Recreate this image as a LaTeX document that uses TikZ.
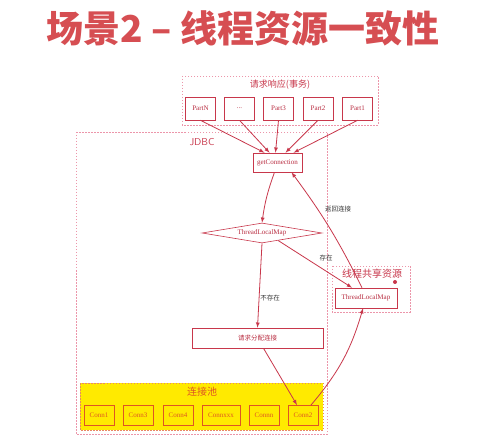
\documentclass[tikz,border=0pt]{standalone}
\usepackage{fontspec}
\setmainfont{Liberation Serif}
\newfontfamily\cjk{Noto Sans CJK SC}
\usetikzlibrary{shapes.geometric}
\usetikzlibrary{arrows}

\definecolor{titlered}{RGB}{214,78,82}
\definecolor{linered}{RGB}{200,55,75}
\definecolor{textred}{RGB}{185,45,65}
\definecolor{dashpink}{RGB}{236,150,170}
\definecolor{poolyellow}{RGB}{255,234,0}
\definecolor{connorange}{RGB}{222,85,35}

\begin{document}
\begin{tikzpicture}[x=1pt,y=-1pt,
    part/.style={draw=linered,fill=white,line width=0.6pt,inner sep=0pt,minimum width=30pt,minimum height=23pt,text=textred,font=\fontsize{7}{8}\selectfont},
    conn/.style={draw=connorange,fill=poolyellow,line width=0.9pt,inner sep=0pt,minimum height=20pt,text=connorange,font=\fontsize{7}{8}\selectfont},
    group/.style={draw=dashpink,line width=0.6pt,dash pattern=on 1.5pt off 1.5pt},
    arr/.style={draw=linered,line width=0.8pt,-latex},
    lbl/.style={font=\cjk\fontsize{6.5}{7}\selectfont,text=black!80}
  ]
  \useasboundingbox[fill=white] (0,0) rectangle (500,443);

  % title
  \node (title) at (243,28) [text=titlered,font=\cjk\bfseries\fontsize{37}{40}\selectfont] {场景2 – 线程资源一致性};

  % request / transaction
  \draw[group] (182,76) rectangle (378,125);
  \node (req) at (280,85) [text=linered,font=\cjk\fontsize{9}{10}\selectfont] {请求响应(事务)};
  \node (pn) at (200.5,108.5) [part] {PartN};
  \node (pd) at (239.5,108.5) [part] {...};
  \node (p3) at (278.5,108.5) [part] {Part3};
  \node (p2) at (318,108.5) [part] {Part2};
  \node (p1) at (357.5,108.5) [part] {Part1};

  % jdbc
  \draw[group] (76,132) rectangle (327,434);
  \node (jdbc) at (202,142) [text=linered,font=\sffamily\fontsize{10}{11}\selectfont] {JDBC};

  \node (gc) at (277.5,162.5) [part,minimum width=49pt,minimum height=19pt] {getConnection};
  \node (tlm) at (262,233) [diamond,draw=linered,fill=white,line width=0.6pt,inner sep=0pt,minimum width=120pt,minimum height=20pt,aspect=6,text=textred,font=\fontsize{7}{8}\selectfont] {ThreadLocalMap};
  \node (alloc) at (257.5,338) [part,minimum width=131pt,minimum height=20pt,font=\cjk\fontsize{6.5}{7}\selectfont] {请求分配连接};

  % shared resource
  \draw[group] (332,266) rectangle (410,312);
  \node (share) at (372,274) [text=linered,font=\cjk\fontsize{10}{11}\selectfont] {线程共享资源};
  \fill[linered] (395,282) circle (2pt);
  \node (stlm) at (366,298) [part,minimum width=62pt,minimum height=20pt] {ThreadLocalMap};

  % pool
  \draw[fill=poolyellow,draw=connorange!70,line width=0.6pt,dash pattern=on 1.5pt off 1.5pt] (80,383) rectangle (323,430);
  \node (pool) at (202,392) [text=connorange,font=\cjk\fontsize{10}{11}\selectfont] {连接池};
  \node (c1) at (99,415.5) [conn,minimum width=30pt] {Conn1};
  \node (c3) at (138,415.5) [conn,minimum width=30pt] {Conn3};
  \node (c4) at (178,415.5) [conn,minimum width=30pt] {Conn4};
  \node (cx) at (221,415.5) [conn,minimum width=38pt] {Connxxx};
  \node (cn) at (264,415.5) [conn,minimum width=30pt] {Connn};
  \node (c2) at (303,415.5) [conn,minimum width=30pt] {Conn2};

  % arrows
  \draw[arr] (pn.south) -- ([xshift=-13pt]gc.north);
  \draw[arr] (pd.south) -- ([xshift=-8pt]gc.north);
  \draw[arr] (p3.south) -- ([xshift=-2pt]gc.north);
  \draw[arr] (p2.south) -- ([xshift=8pt]gc.north);
  \draw[arr] (p1.south) -- ([xshift=16pt]gc.north);

  \draw[arr] ([xshift=-3pt]gc.south) to[bend right=6] (tlm.north);
  \draw[arr] ([xshift=-4pt]stlm.north) to[bend right=5] ([xshift=14pt]gc.south);
  \node (back) at (338,209) [lbl] {返回连接};
  \draw[arr] (tlm.-25) -- ([xshift=-14pt]stlm.north);
  \node (yes) at (326,258) [lbl] {存在};
  \draw[arr] (tlm.south) -- (alloc.north);
  \node (no) at (270,298) [lbl] {不存在};

  \draw[arr] ([xshift=6pt]alloc.south) -- ([xshift=-6pt]c2.north);
  \draw[arr] ([xshift=8pt]c2.north) to[bend right=12] ([xshift=-3pt]stlm.south);
\end{tikzpicture}
\end{document}
